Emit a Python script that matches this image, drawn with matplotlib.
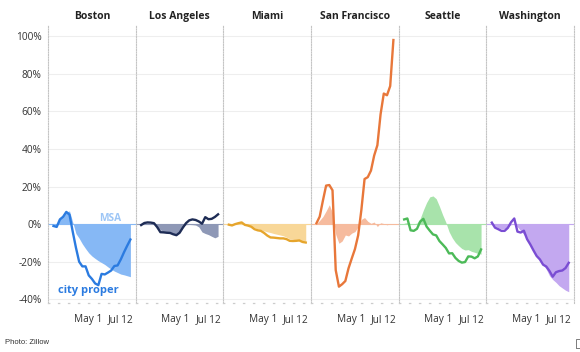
import numpy as np
import matplotlib
matplotlib.use("Agg")
import matplotlib.pyplot as plt
from matplotlib.patches import Rectangle

# ---------------- data ----------------
dates = np.arange(np.datetime64("2020-02-16"), np.datetime64("2020-08-03"), np.timedelta64(7, "D"))
cities = ["Boston", "Los Angeles", "Miami", "San Francisco", "Seattle", "Washington"]
tick_dates = [np.datetime64("2020-05-01"), np.datetime64("2020-07-12")]
tick_labels = ["May 1", "Jul 12"]
y_ticks = [-40, -20, 0, 20, 40, 60, 80, 100]

boston_city = [-1.0, -1.5, 2.5, 3.9, 6.5, 5.0, -4.0, -12.5, -20.0, -22.5, -22.5, -27.3, -29.2,
               -31.6, -32.5, -26.5, -26.8, -25.8, -24.7, -22.3, -22.0, -18.8, -15.0, -11.5, -8.2]
boston_msa = [-0.8, -0.5, 3.0, 4.5, 6.5, 7.0, 1.0, -5.0, -7.5, -10.5, -13.0, -15.3, -17.0,
              -18.3, -19.5, -20.5, -21.5, -22.8, -24.0, -25.0, -25.8, -26.6, -27.0, -27.5, -28.0]

la_city = [-0.5, 0.6, 0.9, 0.8, 0.5, -1.6, -4.3, -4.4, -4.6, -4.7, -5.4, -5.9, -4.6,
           -1.9, 0.5, 2.0, 2.5, 2.2, 1.4, 0.2, 3.7, 2.6, 2.8, 3.8, 5.2]
la_msa = [-0.3, 0.3, 0.5, 0.3, 0.0, -1.5, -3.0, -4.3, -4.2, -4.5, -4.9, -5.3, -4.0,
          -1.5, -0.3, -0.2, -0.3, -0.5, -1.5, -4.2, -5.0, -5.6, -6.5, -7.3, -6.5]

miami_city = [-0.3, -0.7, 0.0, 0.5, 0.9, -0.4, -0.8, -1.4, -2.7, -3.3, -3.6, -4.7, -6.1,
              -7.1, -7.2, -7.4, -7.6, -7.6, -8.0, -8.9, -9.0, -8.9, -8.7, -9.5, -9.8]
miami_msa = [-0.2, -0.4, 0.0, 0.5, 0.8, -0.2, -0.6, -1.2, -1.8, -2.6, -3.0, -3.6, -4.1,
             -4.5, -5.0, -5.4, -5.8, -6.2, -7.0, -7.8, -8.1, -8.3, -8.5, -8.8, -9.0]

sf_city = [0.5, 4.0, 12.5, 20.5, 20.8, 18.0, -24.5, -33.3, -32.0, -30.3, -23.5, -18.3, -13.3,
           -6.0, 7.5, 24.0, 25.0, 28.5, 36.5, 42.0, 58.5, 69.5, 68.6, 73.5, 98.0]
sf_msa = [0.2, 2.0, 4.0, 7.0, 10.3, 6.0, -5.5, -10.2, -9.0, -5.8, -6.3, -4.8, -4.0,
          -1.3, 2.5, 3.5, 1.5, 0.4, 1.1, -1.3, 0.7, 0.3, -0.4, 0.2, 0.0]

seattle_city = [2.5, 3.0, -3.3, -3.6, -2.5, 1.3, 2.8, -1.3, -3.5, -5.5, -6.0, -9.0, -10.8,
                -12.7, -15.6, -15.5, -18.0, -19.6, -20.5, -20.2, -17.2, -17.3, -18.2, -17.2, -13.5]
seattle_msa = [0.5, 0.8, 0.3, 0.2, 0.5, 3.0, 7.5, 11.5, 14.5, 15.0, 13.5, 9.5, 5.0,
               1.0, -4.0, -7.3, -9.8, -11.5, -13.0, -13.8, -13.6, -14.5, -15.0, -15.6, -16.0]

wash_city = [0.8, -1.9, -2.7, -3.6, -3.6, -2.0, 1.0, 3.0, -4.0, -4.5, -3.5, -8.0, -10.8,
             -14.0, -17.0, -18.8, -21.6, -22.6, -25.0, -28.0, -25.6, -25.0, -24.7, -23.4, -20.6]
wash_msa = [0.5, -1.0, -2.0, -2.5, -2.5, -1.5, -0.3, 0.0, -1.5, -3.5, -5.5, -8.0, -10.8,
            -13.8, -16.5, -18.8, -21.5, -24.0, -27.5, -29.5, -31.0, -32.8, -34.0, -35.2, -36.0]

city_series = [boston_city, la_city, miami_city, sf_city, seattle_city, wash_city]
msa_series = [boston_msa, la_msa, miami_msa, sf_msa, seattle_msa, wash_msa]

# ---------------- style ----------------
line_colors = ["#2b7be0", "#1e2c55", "#e6a52c", "#e8773a", "#4cba58", "#7a4dd3"]
fill_colors = ["#86b8f5", "#8e98b6", "#f8d798", "#f6bb9e", "#a8e3ab", "#c3a8f0"]

plt.rcParams["font.family"] = ["Open Sans", "DejaVu Sans"]

W, H = 580, 352
fig = plt.figure(figsize=(W / 100, H / 100), dpi=100)

x = (dates - dates[0]).astype(int)
tx = [(d - dates[0]).astype(int) for d in tick_dates]

left_px, top_px, bot_px = 48, 25, 303
panel_w = (574 - 48) / 6
sep_color = "#c4c4c4"

axes = []
for i, name in enumerate(cities):
    ax = fig.add_axes([(left_px + i * panel_w) / W, 1 - bot_px / H, panel_w / W, (bot_px - top_px) / H])
    axes.append(ax)
    ax.set_xlim(-12, 179.5)
    ax.set_ylim(-42, 106)
    ax.set_yticks(y_ticks)
    ax.yaxis.grid(True, color="#eeeeee", lw=0.8)
    ax.set_axisbelow(True)
    city = np.array(city_series[i])
    msa = np.array(msa_series[i])
    ax.fill_between(x, 0, msa, color=fill_colors[i], lw=0, zorder=2)
    ax.axhline(0, color=fill_colors[i], lw=0.8, zorder=2)
    ax.plot(x, city, color=line_colors[i], lw=1.7, zorder=3, solid_joinstyle="round")

    for s in ["top", "right"]:
        ax.spines[s].set_visible(False)
    ax.spines["left"].set_linestyle((0, (1, 1.3)))
    ax.spines["left"].set_color(sep_color)
    ax.spines["left"].set_linewidth(0.8)
    ax.spines["bottom"].set_linestyle((0, (1, 7)))
    ax.spines["bottom"].set_color("#cccccc")
    ax.spines["bottom"].set_linewidth(0.9)
    if i == 5:
        ax.spines["right"].set_visible(True)
        ax.spines["right"].set_linestyle((0, (1, 1.3)))
        ax.spines["right"].set_color(sep_color)
        ax.spines["right"].set_linewidth(0.8)

    ax.set_xticks(tx)
    ax.set_xticklabels(tick_labels, fontsize=7.3, color="#333333")
    ax.tick_params(axis="x", length=0, pad=8)
    ax.tick_params(axis="y", length=0, pad=4.5, labelsize=7.3, labelcolor="#333333")
    if i == 0:
        ax.set_yticklabels([f"{v}%" for v in y_ticks])
    else:
        ax.set_yticklabels([])
    ax.set_title(name, fontsize=7.5, fontweight="bold", color="#222222", pad=4)

# annotations in Boston panel
axes[0].text(123, 3.2, "MSA", color="#9dc6f6", fontsize=7.3, fontweight="bold",
             ha="center", va="center", zorder=4)
axes[0].text(76, -35.5, "city proper", color="#2b7be0", fontsize=8, fontweight="bold",
             ha="center", va="center", zorder=4)

fig.text(5 / W, 1 - 343 / H, "Photo: Zillow", fontsize=5.5, family=["Liberation Sans", "DejaVu Sans"],
         color="#333333", ha="left", va="center")
fig.add_artist(Rectangle((576 / W, 1 - 348 / H), 8 / W, 9 / H, transform=fig.transFigure,
                         fill=False, ec="#666666", lw=0.6))

fig.savefig("out.png", dpi=100, facecolor="white")
